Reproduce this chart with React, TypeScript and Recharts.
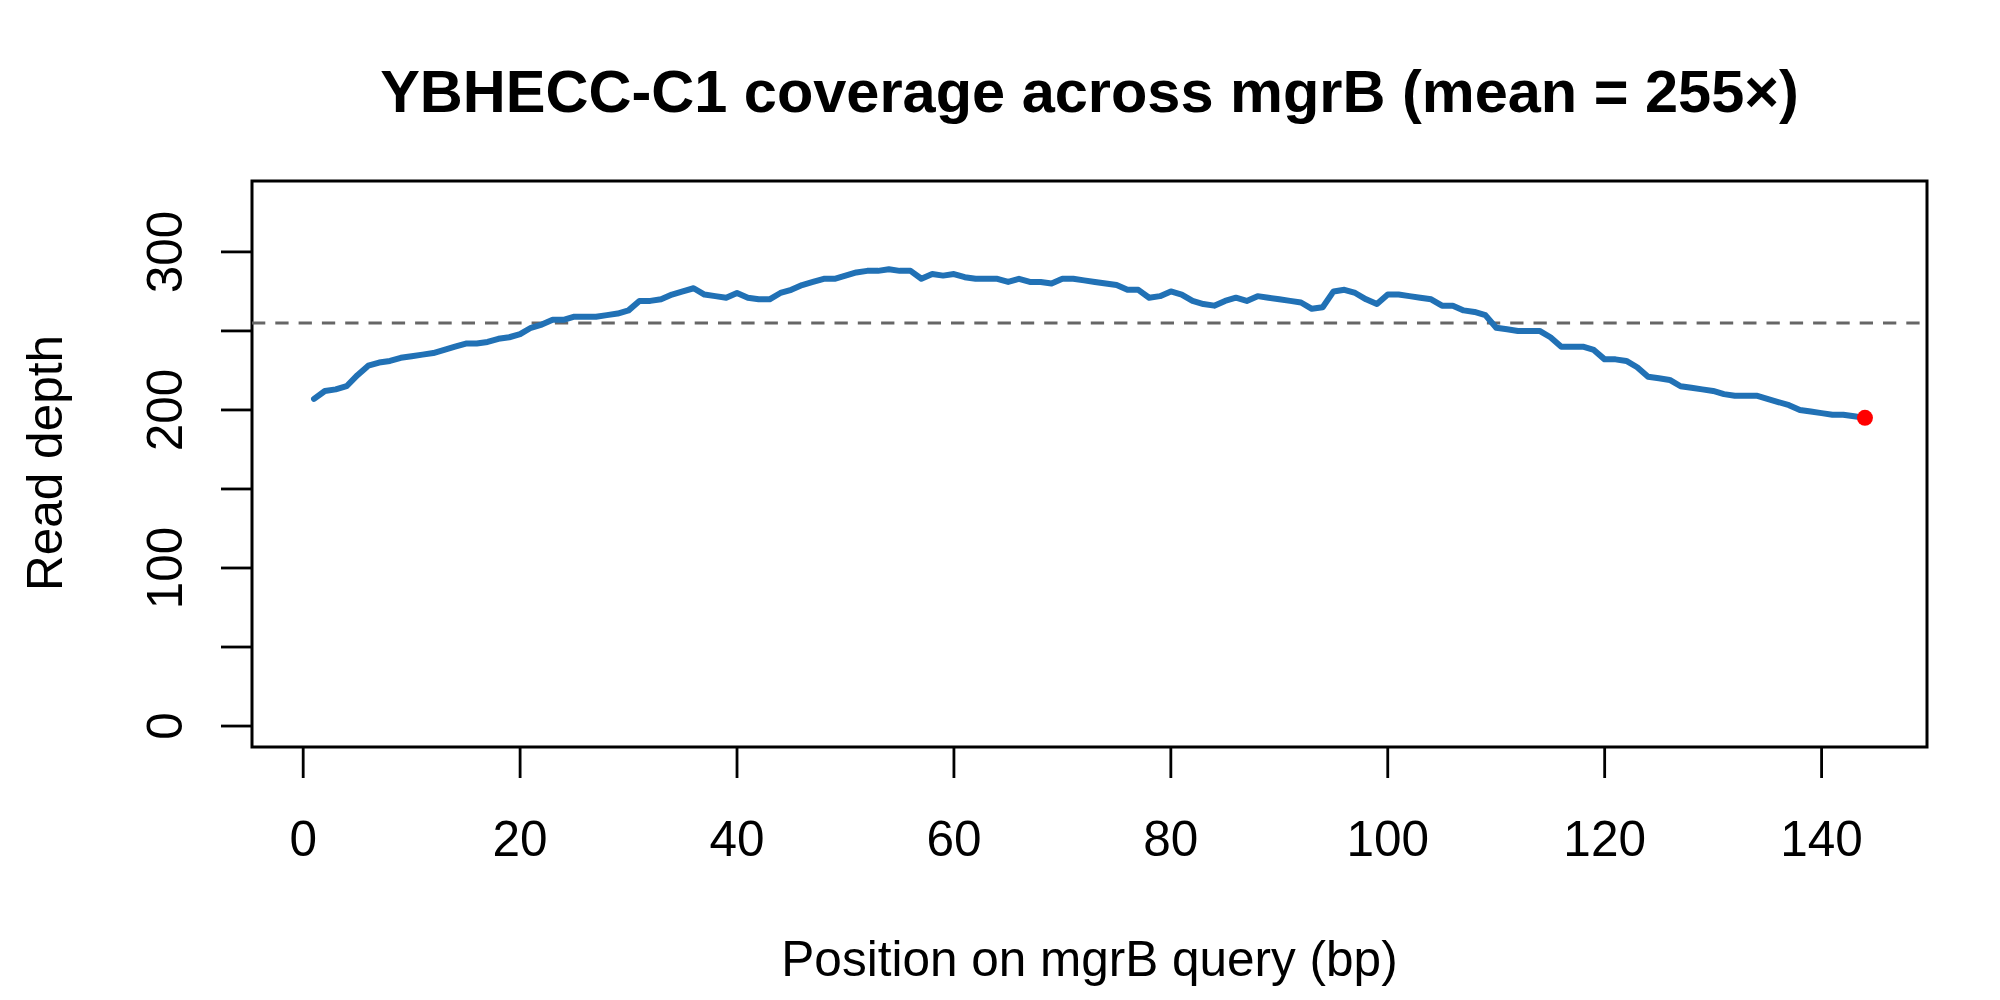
import React from "react";
import {
  LineChart,
  Line,
  XAxis,
  YAxis,
  ReferenceLine,
  ReferenceDot,
  ReferenceArea,
} from "recharts";

// read depth at each query position (bp 1..144)
const DEPTH = [
  207, 212, 213, 215, 222, 228, 230, 231, 233, 234,
  235, 236, 238, 240, 242, 242, 243, 245, 246, 248,
  252, 254, 257, 257, 259, 259, 259, 260, 261, 263,
  269, 269, 270, 273, 275, 277, 273, 272, 271, 274,
  271, 270, 270, 274, 276, 279, 281, 283, 283, 285,
  287, 288, 288, 289, 288, 288, 283, 286, 285, 286,
  284, 283, 283, 283, 281, 283, 281, 281, 280, 283,
  283, 282, 281, 280, 279, 276, 276, 271, 272, 275,
  273, 269, 267, 266, 269, 271, 269, 272, 271, 270,
  269, 268, 264, 265, 275, 276, 274, 270, 267, 273,
  273, 272, 271, 270, 266, 266, 263, 262, 260, 252,
  251, 250, 250, 250, 246, 240, 240, 240, 238, 232,
  232, 231, 227, 221, 220, 219, 215, 214, 213, 212,
  210, 209, 209, 209, 207, 205, 203, 200, 199, 198,
  197, 197, 196, 195,
];
const MEAN_DEPTH = 255;
const X_TICKS = [0, 20, 40, 60, 80, 100, 120, 140];
const Y_TICKS = [0, 50, 100, 150, 200, 250, 300];
const Y_LABELED = [0, 100, 200, 300];

const TITLE = "YBHECC-C1 coverage across mgrB (mean = 255\u00d7)";
const X_LABEL = "Position on mgrB query (bp)";
const Y_LABEL = "Read depth";

const data = DEPTH.map((d, i) => ({ pos: i + 1, depth: d }));
const last = data[data.length - 1];

const FONT = "'Liberation Sans', Arial, sans-serif";
const X_DOMAIN = [-4.72, 149.72];
const Y_DOMAIN = [-13.26, 344.86];

const XTick = ({ x, y, payload }: any) => (
  <text x={x} y={y + 78} textAnchor="middle" fontSize={49.5} fontFamily={FONT} fill="#000">
    {payload.value}
  </text>
);

const YTick = ({ x, y, payload }: any) => {
  if (!Y_LABELED.includes(payload.value)) return null;
  return (
    <g transform={`translate(${x - 39},${y}) rotate(-90)`}>
      <text x={0} y={0} textAnchor="middle" fontSize={49.5} fontFamily={FONT} fill="#000">
        {payload.value}
      </text>
    </g>
  );
};

export default function App() {
  return (
    <div style={{ position: "absolute", left: 0, top: 0, width: 2000, height: 1000, background: "#fff" }}>
      <LineChart width={2000} height={1000} data={data} margin={{ top: 181, right: 73, bottom: 0, left: 0 }}>
        <XAxis
          dataKey="pos"
          type="number"
          domain={X_DOMAIN}
          ticks={X_TICKS}
          allowDataOverflow
          height={253}
          axisLine={false}
          tickSize={31}
          tickMargin={0}
          tickLine={{ stroke: "#000", strokeWidth: 2.8 }}
          tick={<XTick />}
        />
        <YAxis
          type="number"
          domain={Y_DOMAIN}
          ticks={Y_TICKS}
          allowDataOverflow
          width={252}
          axisLine={false}
          tickSize={31}
          tickMargin={0}
          tickLine={{ stroke: "#000", strokeWidth: 2.8 }}
          tick={<YTick />}
        />
        <ReferenceLine
          y={MEAN_DEPTH}
          stroke="#666666"
          strokeWidth={3}
          strokeDasharray="13.3 10"
          ifOverflow="visible"
        />
        <Line
          type="linear"
          dataKey="depth"
          stroke="#2171B5"
          strokeWidth={6}
          strokeLinejoin="round"
          strokeLinecap="round"
          dot={false}
          activeDot={false}
          isAnimationActive={false}
        />
        <ReferenceDot x={last.pos} y={last.depth} r={8} fill="#FF0000" stroke="none" ifOverflow="visible" />
        <ReferenceArea
          x1={X_DOMAIN[0]}
          x2={X_DOMAIN[1]}
          y1={Y_DOMAIN[0]}
          y2={Y_DOMAIN[1]}
          fill="none"
          stroke="#000"
          strokeWidth={3}
          ifOverflow="visible"
        />
      </LineChart>
      <svg
        width={2000}
        height={1000}
        style={{ position: "absolute", left: 0, top: 0, pointerEvents: "none" }}
      >
        <text x={1089.5} y={112} textAnchor="middle" fontSize={59.5} fontWeight="bold" fontFamily={FONT} fill="#000">
          {TITLE}
        </text>
        <text x={1089.5} y={976} textAnchor="middle" fontSize={49.5} fontFamily={FONT} fill="#000">
          {X_LABEL}
        </text>
        <g transform="translate(62,463) rotate(-90)">
          <text x={0} y={0} textAnchor="middle" fontSize={49.5} fontFamily={FONT} fill="#000">
            {Y_LABEL}
          </text>
        </g>
      </svg>
    </div>
  );
}
